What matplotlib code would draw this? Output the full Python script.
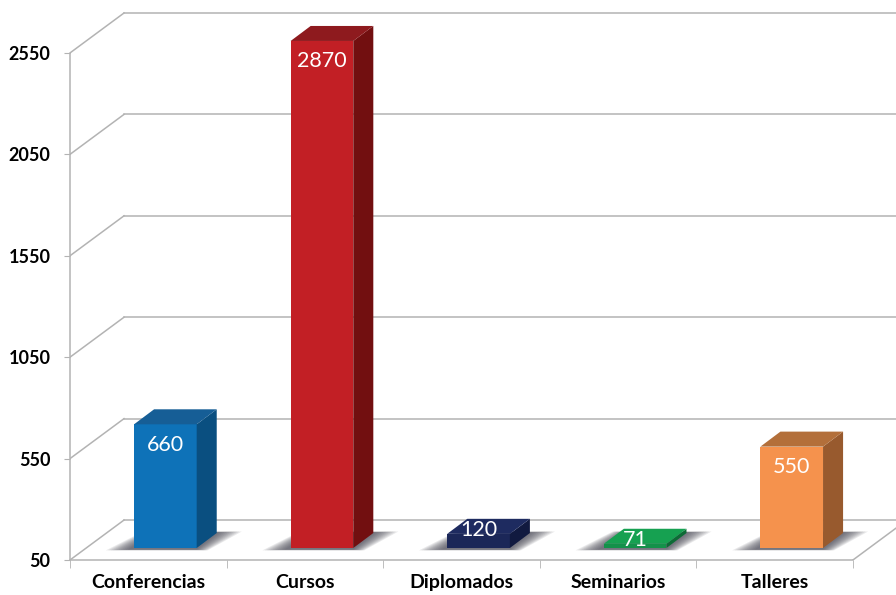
import numpy as np
import matplotlib.pyplot as plt
from matplotlib.patches import Polygon

# data
categories = ['Conferencias', 'Cursos', 'Diplomados', 'Seminarios', 'Talleres']
values = [660, 2870, 120, 71, 550]
yticks = [50, 550, 1050, 1550, 2050, 2550]
front_colors = ['#0e72b8', '#c21f25', '#1b2758', '#14914a', '#f5924d']
side_colors = ['#0a4f80', '#720f10', '#111a40', '#0d6b36', '#985a2e']
top_colors = ['#165e96', '#8e1a1e', '#1e2b60', '#16a151', '#b36f3a']

ybase, ymax = 50, 2550
# oblique depth of the chart box (category units, value units)
DX, DY = 0.345, 197
# bar placement inside the box
BX, BY = 0.109, 59
BW = 0.2
BDX, BDY = 0.128, 74

fig = plt.figure(figsize=(8.96, 5.95), dpi=100)
ax = fig.add_axes([70/896, 35/595, 826/896, 560/595])
ax.set_xlim(-0.5, 4.775)
ax.set_ylim(50, 2811)

gcol = '#b3b3b3'
# back wall grid + left wall diagonals
for v in yticks:
    ax.plot([-0.5 + DX, 5.5], [v + DY, v + DY], color=gcol, lw=1.1, zorder=1)
    ax.plot([-0.5, -0.5 + DX], [v, v + DY], color=gcol, lw=1.1, zorder=1)
# right floor edge
ax.plot([4.5, 4.5 + DX], [ybase, ybase + DY], color=gcol, lw=1.1, zorder=1)

for i, v in enumerate(values):
    c = i + BX
    b = ybase + BY
    t = min(v, ymax) + BY
    # blurred shadow of the footprint
    for e in np.linspace(0.14, 0.0, 10):
        sh = Polygon([(c - BW - 0.04 - e, b - 8 - e * 25), (c + BW + e * 0.5, b - 8 - e * 25),
                      (c + BW + BDX + 0.02 + e, b + BDY + 4 + e * 25),
                      (c - BW + BDX - e * 0.5, b + BDY + 4 + e * 25)],
                     closed=True, fc='#3c3c48', ec='none', alpha=0.11, zorder=2)
        ax.add_patch(sh)
    front = Polygon([(c - BW, b), (c + BW, b), (c + BW, t), (c - BW, t)],
                    closed=True, fc=front_colors[i], ec='none', zorder=3)
    side = Polygon([(c + BW, b), (c + BW + BDX, b + BDY), (c + BW + BDX, t + BDY), (c + BW, t)],
                   closed=True, fc=side_colors[i], ec='none', zorder=3)
    top = Polygon([(c - BW, t), (c + BW, t), (c + BW + BDX, t + BDY), (c - BW + BDX, t + BDY)],
                  closed=True, fc=top_colors[i], ec='none', zorder=3)
    for p in (front, side, top):
        ax.add_patch(p)
    if t - b > 200:
        ly = t - 100
    else:
        ly = t + 20
    ax.text(c, ly, str(v), color='white', fontsize=15.5, family='Lato',
            ha='center', va='center', zorder=4)

for s in ['top', 'right']:
    ax.spines[s].set_visible(False)
ax.spines['left'].set_bounds(50, 2550)
ax.spines['bottom'].set_bounds(-0.5, 4.5)
ax.spines['left'].set_color(gcol)
ax.spines['bottom'].set_color(gcol)
ax.spines['left'].set_linewidth(1.1)
ax.spines['bottom'].set_linewidth(1.1)

ax.set_yticks(yticks)
ax.set_yticklabels([str(v) for v in yticks], fontsize=13, family='Lato', fontweight='bold')
ax.tick_params(axis='y', length=4, color=gcol, pad=10)
ax.set_xticks(range(len(categories)))
ax.set_xticklabels(categories, fontsize=14, family='Lato', fontweight='bold')
ax.set_xticks(np.arange(-0.5, 5, 1), minor=True)
ax.tick_params(axis='x', which='major', length=0, pad=10)
ax.tick_params(axis='x', which='minor', length=6, color=gcol)

fig.savefig('out.png', dpi=100)
